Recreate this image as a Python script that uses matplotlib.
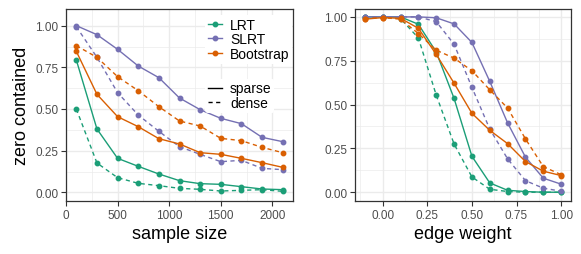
import matplotlib
matplotlib.use("Agg")
import matplotlib.pyplot as plt
from matplotlib.lines import Line2D

plt.rcParams['font.family'] = ['Liberation Sans', 'DejaVu Sans']

# --- data ---
sample_size = [100, 300, 500, 700, 900, 1100, 1300, 1500, 1700, 1900, 2100]
edge_weight = [-0.1, 0.0, 0.1, 0.2, 0.3, 0.4, 0.5, 0.6, 0.7, 0.8, 0.9, 1.0]

# left panel: zero contained vs sample size
lrt_sparse_n = [0.794, 0.38, 0.204, 0.156, 0.11, 0.07, 0.052, 0.048, 0.034, 0.02, 0.016]
lrt_dense_n = [0.50, 0.176, 0.088, 0.054, 0.04, 0.024, 0.018, 0.008, 0.012, 0.016, 0.006]
slrt_sparse_n = [1.0, 0.946, 0.858, 0.758, 0.688, 0.566, 0.496, 0.444, 0.412, 0.33, 0.304]
slrt_dense_n = [0.994, 0.81, 0.598, 0.464, 0.366, 0.274, 0.228, 0.184, 0.192, 0.144, 0.136]
boot_sparse_n = [0.846, 0.588, 0.454, 0.394, 0.322, 0.29, 0.238, 0.228, 0.204, 0.178, 0.15]
boot_dense_n = [0.88, 0.81, 0.694, 0.61, 0.514, 0.428, 0.398, 0.324, 0.31, 0.27, 0.238]

# right panel: zero contained vs edge weight
lrt_sparse_w = [1.0, 1.0, 1.0, 0.958, 0.80, 0.535, 0.205, 0.053, 0.011, 0.004, 0.0, 0.0]
lrt_dense_w = [1.0, 1.0, 0.99, 0.88, 0.554, 0.275, 0.087, 0.017, 0.004, 0.0, 0.0, 0.0]
slrt_sparse_w = [1.0, 1.0, 1.0, 1.0, 0.995, 0.96, 0.854, 0.632, 0.395, 0.20, 0.08, 0.046]
slrt_dense_w = [1.0, 1.0, 1.0, 1.0, 0.973, 0.844, 0.598, 0.36, 0.19, 0.066, 0.023, 0.006]
boot_sparse_w = [0.987, 0.996, 0.992, 0.935, 0.786, 0.622, 0.45, 0.353, 0.277, 0.175, 0.12, 0.095]
boot_dense_w = [0.99, 0.996, 0.987, 0.905, 0.81, 0.765, 0.693, 0.584, 0.48, 0.304, 0.146, 0.10]

methods = ['LRT', 'SLRT', 'Bootstrap']
colors = {'LRT': '#1B9E77', 'SLRT': '#7570B3', 'Bootstrap': '#D95F02'}

left_series = {
    'LRT': (lrt_sparse_n, lrt_dense_n),
    'SLRT': (slrt_sparse_n, slrt_dense_n),
    'Bootstrap': (boot_sparse_n, boot_dense_n),
}
right_series = {
    'LRT': (lrt_sparse_w, lrt_dense_w),
    'SLRT': (slrt_sparse_w, slrt_dense_w),
    'Bootstrap': (boot_sparse_w, boot_dense_w),
}

W, H = 581, 255
fig = plt.figure(figsize=(W / 100, H / 100), dpi=100)


def px_axes(x0, x1, y0, y1):
    return fig.add_axes([x0 / W, 1 - y1 / H, (x1 - x0) / W, (y1 - y0) / H])


ax1 = px_axes(66, 293, 10, 202)
ax2 = px_axes(355, 571, 10, 202)

dash = (0, (3, 2.5))


def style(ax, xmaj, xmin, ymaj, ymin):
    ax.set_facecolor('white')
    ax.set_xticks(xmaj)
    ax.set_xticks(xmin, minor=True)
    ax.set_yticks(ymaj)
    ax.set_yticks(ymin, minor=True)
    ax.grid(True, which='major', color='#EBEBEB', lw=1.0, zorder=0)
    ax.grid(True, which='minor', color='#EBEBEB', lw=0.5, zorder=0)
    ax.set_axisbelow(True)
    for s in ax.spines.values():
        s.set_color('#333333')
        s.set_linewidth(0.9)
    ax.tick_params(which='major', length=3.5, width=0.8, color='#333333',
                   labelsize=8.5, labelcolor='#4D4D4D', pad=2)
    ax.tick_params(which='minor', length=0)
    ax.yaxis.set_major_formatter(plt.FuncFormatter(lambda v, p: f'{v:.2f}'))


def draw(ax, x, series):
    for m in methods:
        sp, de = series[m]
        ax.plot(x, sp, color=colors[m], lw=1.0, marker='o', ms=3.2, zorder=3)
        ax.plot(x, de, color=colors[m], lw=1.0, ls=dash, marker='o', ms=3.2, zorder=3)


draw(ax1, sample_size, left_series)
draw(ax2, edge_weight, right_series)

style(ax1, [0, 500, 1000, 1500, 2000], [250, 750, 1250, 1750],
      [0, 0.25, 0.5, 0.75, 1.0], [0.125, 0.375, 0.625, 0.875])
ax1.xaxis.set_major_formatter(plt.FuncFormatter(lambda v, p: f'{int(v)}'))
ax1.set_xlim(0, 2200)
ax1.set_ylim(-0.052, 1.10)

style(ax2, [0, 0.25, 0.5, 0.75, 1.0], [-0.125, 0.125, 0.375, 0.625, 0.875],
      [0, 0.25, 0.5, 0.75, 1.0], [0.125, 0.375, 0.625, 0.875])
ax2.xaxis.set_major_formatter(plt.FuncFormatter(lambda v, p: f'{v:.2f}'))
ax2.set_xlim(-0.155, 1.055)
ax2.set_ylim(-0.05, 1.045)

ax1.set_xlabel('sample size', fontsize=13, labelpad=3)
ax2.set_xlabel('edge weight', fontsize=13, labelpad=3)
ax1.set_ylabel('zero contained', fontsize=13, labelpad=4)

# legends inside left panel
leg_kw = dict(loc='upper left', fontsize=10, frameon=True, facecolor='white',
              edgecolor='none', framealpha=1, handlelength=1.0, handletextpad=0.6,
              labelspacing=0.05, borderpad=0.2, borderaxespad=0)
h1 = [Line2D([], [], color=colors[m], lw=1.0, marker='o', ms=3.2) for m in methods]
leg1 = ax1.legend(h1, methods, bbox_to_anchor=(0.612, 0.97), **leg_kw)
ax1.add_artist(leg1)
h2 = [Line2D([], [], color='black', lw=1.0), Line2D([], [], color='black', lw=1.0, ls=dash)]
ax1.legend(h2, ['sparse', 'dense'], bbox_to_anchor=(0.612, 0.637), **leg_kw)

fig.savefig('out.png', dpi=100)
